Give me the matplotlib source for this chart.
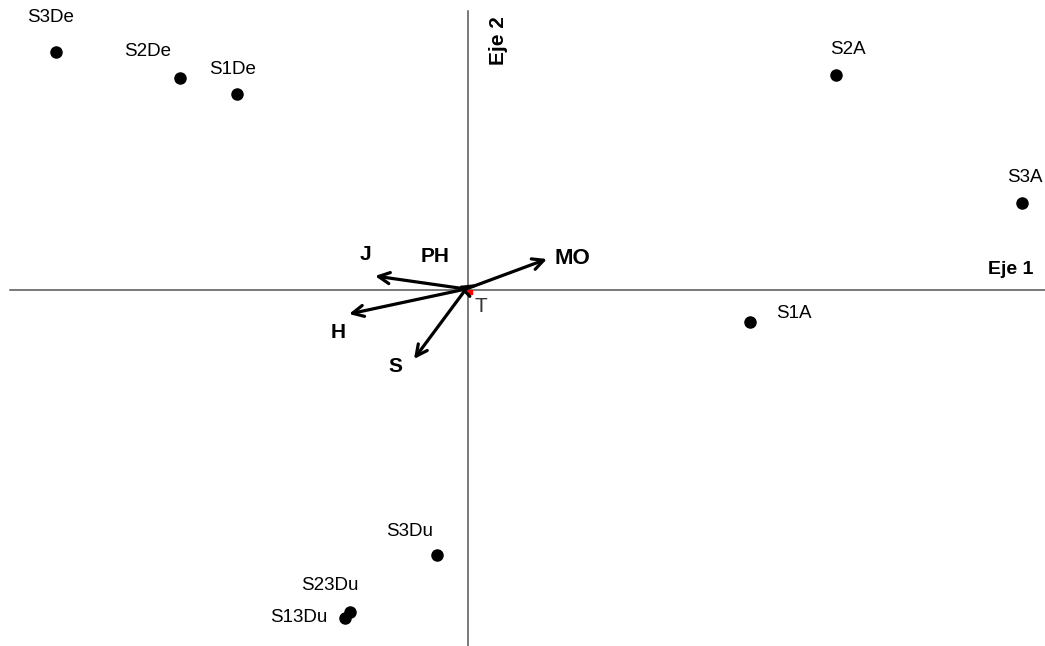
# Biplot: sitios y variables sobre Eje 1 / Eje 2
import matplotlib.pyplot as plt

plt.rcParams['font.family'] = ['Liberation Sans', 'DejaVu Sans']

# Sitios (coordenadas en los ejes)
sitios = ['S3De', 'S2De', 'S1De', 'S2A', 'S3A', 'S1A', 'S3Du', 'S23Du', 'S13Du']
eje1 = [-4.12, -2.88, -2.31, 3.68, 5.54, 2.82, -0.31, -1.18, -1.23]
eje2 = [2.38, 2.12, 1.96, 2.15, 0.87, -0.32, -2.65, -3.22, -3.28]

# Variables (vectores)
variables = ['J', 'PH', 'MO', 'H', 'S', 'T']
var_x = [-0.93, -0.10, 0.79, -1.19, -0.54, 0.0]
var_y = [0.14, 0.04, 0.31, -0.24, -0.69, -0.01]

fig = plt.figure(figsize=(10.45, 6.46), dpi=100)
ax = fig.add_axes([0, 0, 1, 1])
ax.set_xlim(-4.68, 5.77)
ax.set_ylim(-3.56, 2.90)
ax.axis('off')

# Ejes
ax.plot([-4.58, 5.77], [0, 0], color='#555555', lw=1.1)
ax.plot([0, 0], [-3.56, 2.79], color='#555555', lw=1.1)

# Puntos y etiquetas
ax.plot(eje1, eje2, 'o', color='black', ms=8)
offs = {'S3De': (-0.05, 0.34, 'center'), 'S2De': (-0.32, 0.27, 'center'),
        'S1De': (-0.04, 0.24, 'center'), 'S2A': (0.12, 0.25, 'center'),
        'S3A': (0.03, 0.26, 'center'), 'S1A': (0.26, 0.08, 'left'),
        'S3Du': (-0.27, 0.23, 'center'), 'S23Du': (-0.20, 0.26, 'center'),
        'S13Du': (-0.18, 0.01, 'right')}
for s, x, y in zip(sitios, eje1, eje2):
    dx, dy, ha = offs[s]
    ax.text(x + dx, y + dy, s, fontsize=13.5, ha=ha, va='center')

# Vectores
for v, x, y in zip(variables, var_x, var_y):
    if v == 'T':
        ax.plot(x + 0.02, y - 0.01, 's', color='red', ms=2.5)
        continue
    ax.annotate('', xy=(x, y), xytext=(-0.02, 0.01),
                arrowprops=dict(arrowstyle='->', lw=2.3, color='black',
                                mutation_scale=20, shrinkA=0, shrinkB=0))
lab = {'J': (-1.03, 0.36), 'PH': (-0.33, 0.34), 'MO': (1.04, 0.31),
       'H': (-1.30, -0.43), 'S': (-0.73, -0.77), 'T': (0.13, -0.17)}
for v in variables:
    x, y = lab[v]
    if v == 'T':
        ax.text(x, y, v, fontsize=15, ha='center', va='center', color='#333333')
    elif v == 'MO':
        ax.text(x, y, v, fontsize=16, fontweight='bold', ha='center', va='center')
    else:
        ax.text(x, y, v, fontsize=15, fontweight='bold', ha='center', va='center')

ax.text(5.43, 0.20, 'Eje 1', fontsize=14, fontweight='bold', ha='center', va='center')
ax.text(0.31, 2.49, 'Eje 2', fontsize=15, fontweight='bold', ha='center', va='center',
        rotation=90)

fig.savefig('out.png', dpi=100)
